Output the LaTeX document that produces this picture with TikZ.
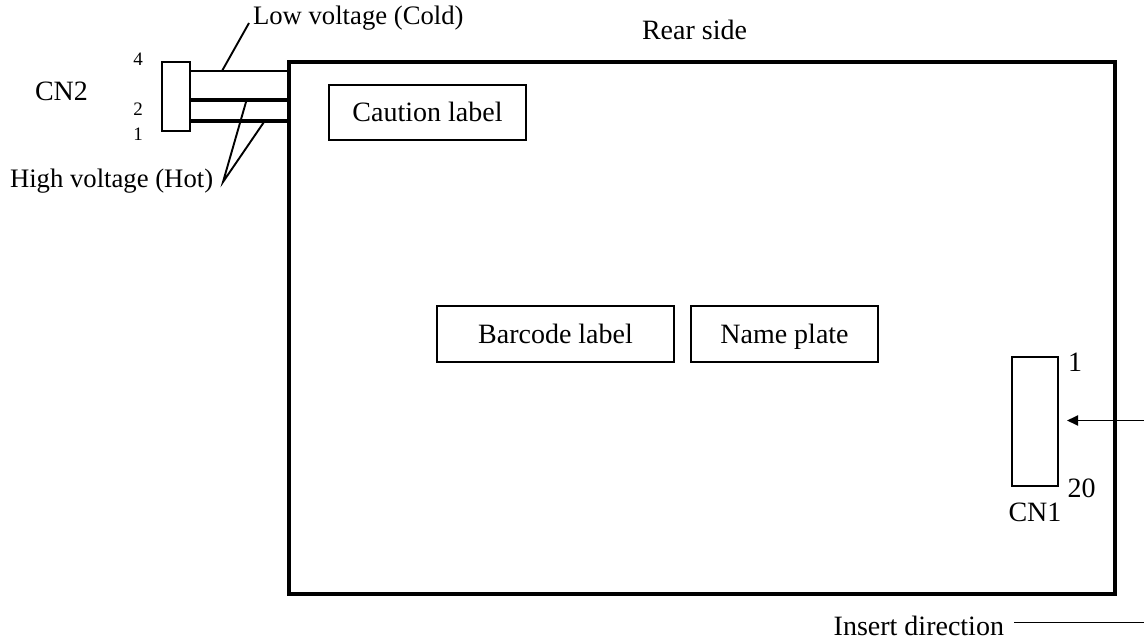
\documentclass[tikz,border=0pt]{standalone}
\usepackage{fontspec}
\setmainfont{Liberation Serif}
\usetikzlibrary{arrows.meta}
\tikzset{
  every node/.style={outer sep=0pt},
  thinbox/.style={draw=black,line width=1.8pt,fill=none,inner sep=0pt,anchor=north west},
  lbl/.style={inner sep=0pt,font=\fontsize{28}{28}\selectfont,text=black},
  lblsmall/.style={inner sep=0pt,font=\fontsize{26.7}{27}\selectfont,text=black},
  small/.style={inner sep=0pt,font=\fontsize{19}{19}\selectfont,text=black},
  boxtext/.style={text height=24pt,text depth=6pt},
  lead/.style={line width=1.9pt,black},
  wirethin/.style={line width=2pt,black},
  wirethick/.style={line width=4pt,black}
}
\begin{document}
\begin{tikzpicture}[x=1pt,y=-1pt]
\useasboundingbox (0,0) rectangle (1144,642);
% main board
\node[draw=black,line width=4pt,minimum width=826.5pt,minimum height=532pt,inner sep=0pt,anchor=north west] (board) at (288.5,62) {};
% CN2
\node[thinbox,minimum width=28pt,minimum height=69pt] (cn2) at (162,62) {};
\coordinate (w4) at (190,71);
\coordinate (w2) at (190,100.5);
\coordinate (w1) at (190,120.5);
\draw[wirethin] (w4) -- (w4 -| board.west);
\draw[wirethick] (w2) -- (w2 -| board.west);
\draw[wirethick] (w1) -- (w1 -| board.west);
\node[small,anchor=base] (p4) at (138,66) {4};
\node[small,anchor=base] (p2) at (138,115) {2};
\node[small,anchor=base] (p1) at (138,140) {1};
\node[lbl,anchor=base west] (cn2l) at (35,101) {CN2};
% leaders
\node[lblsmall,anchor=base west] (low) at (253,25) {Low voltage (Cold)};
\coordinate (lowtip) at (222,71);
\coordinate (lowend) at (249,23);
\draw[lead] (lowtip) -- (lowend);
\node[lblsmall,anchor=base west] (high) at (10,187) {High voltage (Hot)};
\coordinate (hv) at (223,182);
\coordinate (h2) at (246,102);
\coordinate (h1) at (264,122);
\draw[lead] (h2) -- (hv) -- (h1);
% labels
\node[lbl,anchor=base west] (rear) at (642,40) {Rear side};
\node[thinbox,minimum width=197pt,minimum height=55pt,lbl,boxtext] (caution) at (329,85) {Caution label};
\node[thinbox,minimum width=237pt,minimum height=56pt,lbl,boxtext] (barcode) at (437,306) {Barcode label};
\node[thinbox,minimum width=187pt,minimum height=56pt,lbl,boxtext] (name) at (691,306) {Name plate};
% CN1
\node[thinbox,minimum width=46pt,minimum height=129pt] (cn1) at (1012,357) {};
\node[lbl,anchor=base] (c1) at (1075,371) {1};
\node[lbl,anchor=base] (c20) at (1081.5,497) {20};
\node[lbl,anchor=base] (cn1l) at (1035,521) {CN1};
\coordinate (arrstart) at (1144,420.5);
\coordinate (arrend) at (1067,420.5);
\draw[lead,-{Triangle[length=11pt,width=10pt]}] (arrstart) -- (arrend);
% insert direction
\node[lbl,anchor=base east] (ins) at (1004,635) {Insert direction};
\coordinate (insstart) at (1014,622.5);
\coordinate (insend) at (1144,622.5);
\draw[lead] (insstart) -- (insend);
\end{tikzpicture}
\end{document}
